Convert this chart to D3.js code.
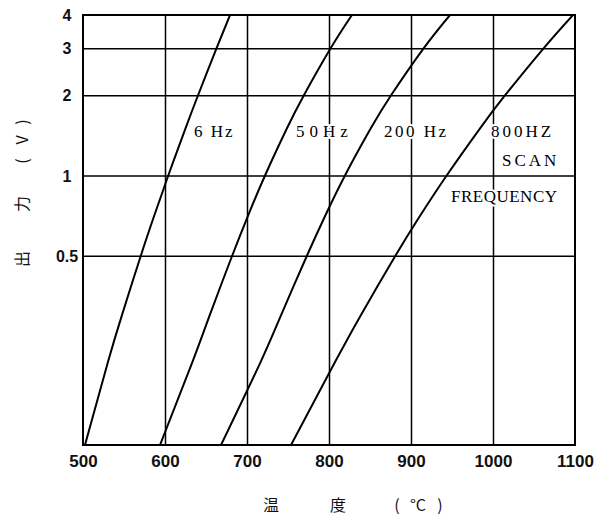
<!DOCTYPE html>
<html><head><meta charset="utf-8">
<script src="https://cdn.jsdelivr.net/npm/d3@7"></script>
<style>
html,body{margin:0;padding:0;background:#fff;}
svg{display:block;}
</style></head>
<body>
<svg id="c" width="607" height="521"></svg>
<script>
// ---- data ----
const xTicks = [500, 600, 700, 800, 900, 1000, 1100];
const xGrid = [600, 700, 800, 900, 1000];
const yTicks = [0.5, 1, 2, 3, 4];
const yGrid = [0.5, 1, 2, 3];

// output voltage levels at which each curve was read
const volts = [0.0975, 0.2, 0.3, 0.5, 0.7, 1, 1.5, 2, 3, 4];
// temperature (°C) of each curve at those voltages
const temps6   = [502.4, 530.5, 547.6, 570.5, 586.4, 604.0, 624.9, 640.3, 662.8, 679.3];
const temps50  = [593.9, 633.5, 654.7, 681.9, 700.7, 722.0, 748.6, 769.4, 802.0, 828.0];
const temps200 = [668.3, 716.7, 741.7, 773.1, 794.8, 819.5, 850.8, 875.7, 915.4, 947.6];
const temps800 = [753.7, 807.5, 839.0, 881.0, 910.3, 943.5, 984.0, 1014.8, 1061.7, 1097.6];

const seriesNames = ["6 Hz", "50Hz", "200 Hz", "800HZ"];

// ---- layout ----
const L = 83, R = 575, T = 15, B = 445;
const svg = d3.select("#c");
const x = d3.scaleLinear().domain([500, 1100]).range([L, R]);
const y = d3.scaleLog().domain([0.0975, 4]).range([B, T]);

// grid
svg.append("g").attr("transform", `translate(0,${B})`)
  .call(d3.axisBottom(x).tickValues(xGrid).tickSize(-(B - T)).tickFormat(""))
  .call(g => g.select(".domain").remove())
  .call(g => g.selectAll("line").attr("stroke", "#000").attr("stroke-width", 1.5));
svg.append("g").attr("transform", `translate(${L},0)`)
  .call(d3.axisLeft(y).tickValues(yGrid).tickSize(-(R - L)).tickFormat(""))
  .call(g => g.select(".domain").remove())
  .call(g => g.selectAll("line").attr("stroke", "#000").attr("stroke-width", 1.5));

// curves
svg.append("clipPath").attr("id", "pc").append("rect")
  .attr("x", L).attr("y", T).attr("width", R - L).attr("height", B - T);
const line = d3.line().x(d => x(d[0])).y(d => y(d[1])).curve(d3.curveNatural);
const series = [temps6, temps50, temps200, temps800].map(ts => d3.zip(ts, volts));
svg.append("g").attr("clip-path", "url(#pc)")
  .selectAll("path").data(series).join("path")
  .attr("d", line).attr("fill", "none").attr("stroke", "#000").attr("stroke-width", 2);

// frame
svg.append("rect").attr("x", L).attr("y", T).attr("width", R - L).attr("height", B - T)
  .attr("fill", "none").attr("stroke", "#000").attr("stroke-width", 2);

// x tick labels
svg.append("g").attr("transform", `translate(0,${B})`)
  .call(d3.axisBottom(x).tickValues(xTicks).tickSize(0).tickPadding(10).tickFormat(d3.format("d")))
  .call(g => g.select(".domain").remove())
  .call(g => g.selectAll("text").attr("font-family", "Liberation Sans, Arial, sans-serif")
    .attr("font-size", 17).attr("font-weight", "bold").attr("fill", "#111"));

// y tick labels
svg.append("g").attr("transform", `translate(${L},0)`)
  .call(d3.axisLeft(y).tickValues(yTicks).tickSize(0).tickFormat(d => String(d)))
  .call(g => g.select(".domain").remove())
  .call(g => g.selectAll("text").attr("x", -16).attr("dy", "0.35em").attr("text-anchor", "middle")
    .attr("font-family", "Liberation Sans, Arial, sans-serif")
    .attr("font-size", 16).attr("font-weight", "bold").attr("fill", "#111"));

// curve labels
const labelG = svg.append("g").attr("font-family", "Liberation Serif, Times New Roman, serif")
  .attr("font-size", 17).attr("fill", "#000")
  .attr("stroke", "#fff").attr("stroke-width", 4).attr("paint-order", "stroke")
  .attr("stroke-linejoin", "round");
const labs = [
  {t: seriesNames[0], x: 194, y: 137, ls: 2},
  {t: seriesNames[1], x: 296, y: 137, ls: 5},
  {t: seriesNames[2], x: 384, y: 137, ls: 2.5},
  {t: seriesNames[3], x: 491, y: 137, ls: 3},
  {t: "SCAN", x: 502, y: 166, ls: 3},
  {t: "FREQUENCY", x: 451, y: 202, ls: 0.5}
];
labelG.selectAll("text").data(labs).join("text")
  .attr("x", d => d.x).attr("y", d => d.y).attr("letter-spacing", d => d.ls).text(d => d.t);

// axis titles
const cjk = "Noto Sans CJK JP, Noto Sans CJK SC, sans-serif";
const xt = svg.append("g").attr("font-family", cjk).attr("font-size", 16).attr("fill", "#111");
[["温", 271], ["度", 338], ["(", 397], ["°C", 418], [")", 440]].forEach(([c, px]) => {
  xt.append("text").attr("x", px).attr("y", 511).attr("text-anchor", "middle").text(c);
});
const yt = svg.append("g").attr("font-family", cjk).attr("font-size", 16).attr("fill", "#111");
[["出", 259], ["力", 204], ["(", 161], ["V", 140], [")", 122]].forEach(([c, py]) => {
  yt.append("text").attr("transform", `translate(28,${py}) rotate(-90)`)
    .attr("text-anchor", "middle").text(c);
});
</script>
</body></html>
